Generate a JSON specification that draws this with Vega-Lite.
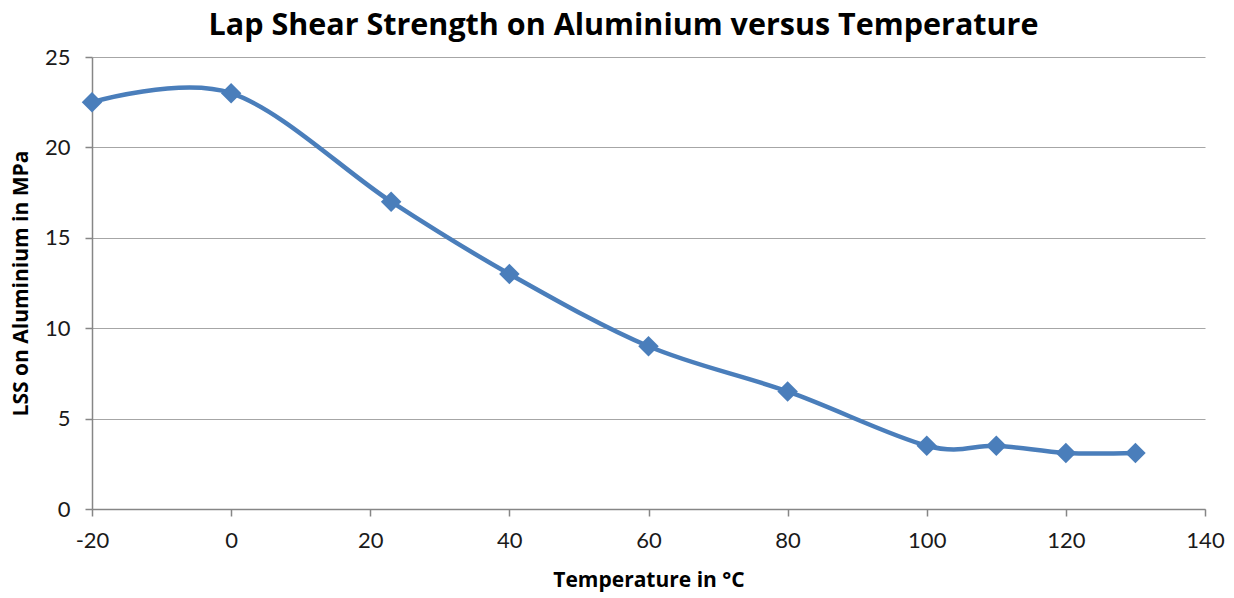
{
  "$schema": "https://vega.github.io/schema/vega-lite/v6.json",
  "autosize": {"type": "none"},
  "padding": {"left": 92, "top": 57, "right": 29, "bottom": 89},
  "width": 1113,
  "height": 452,
  "background": "white",
  "title": {
    "text": "Lap Shear Strength on Aluminium versus Temperature",
    "font": "Open Sans",
    "fontSize": 30.5,
    "fontWeight": "bold",
    "color": "#000000",
    "anchor": "middle",
    "dx": -25,
    "offset": 5
  },
  "data": {
    "values": [
      {"temp": -20, "lss": 22.5},
      {"temp": 0, "lss": 23},
      {"temp": 23, "lss": 17},
      {"temp": 40, "lss": 13},
      {"temp": 60, "lss": 9},
      {"temp": 80, "lss": 6.5},
      {"temp": 100, "lss": 3.5},
      {"temp": 110, "lss": 3.5},
      {"temp": 120, "lss": 3.1},
      {"temp": 130, "lss": 3.1}
    ]
  },
  "encoding": {
    "x": {
      "field": "temp",
      "type": "quantitative",
      "scale": {"domain": [-20, 140], "nice": false, "zero": false},
      "axis": {
        "title": "Temperature in °C",
        "values": [-20, 0, 20, 40, 60, 80, 100, 120, 140],
        "labelExpr": "'' + datum.value",
        "grid": false,
        "domainColor": "#868686",
        "domainWidth": 1.5,
        "tickColor": "#868686",
        "tickWidth": 1.5,
        "tickSize": 7,
        "labelPadding": 14,
        "labelFont": "Lato",
        "labelFontSize": 22,
        "labelColor": "#1a1a1a",
        "labelFlush": false,
        "titleFont": "Open Sans",
        "titleFontSize": 21,
        "titleFontWeight": "bold",
        "titleColor": "#000000",
        "titlePadding": 18
      }
    },
    "y": {
      "field": "lss",
      "type": "quantitative",
      "scale": {"domain": [0, 25], "nice": false},
      "axis": {
        "title": "LSS on Aluminium in MPa",
        "values": [0, 5, 10, 15, 20, 25],
        "grid": true,
        "gridColor": "#a6a6a6",
        "gridWidth": 1.2,
        "domainColor": "#868686",
        "domainWidth": 1.5,
        "tickColor": "#868686",
        "tickWidth": 1.5,
        "tickSize": 7,
        "labelPadding": 15,
        "labelFont": "Lato",
        "labelFontSize": 22,
        "labelColor": "#1a1a1a",
        "titleFont": "Open Sans",
        "titleFontSize": 21,
        "titleFontWeight": "bold",
        "titleColor": "#000000",
        "titlePadding": 13
      }
    }
  },
  "layer": [
    {
      "mark": {"type": "line", "interpolate": "cardinal", "tension": 0, "color": "#4A7EBB", "strokeWidth": 4.5}
    },
    {
      "mark": {"type": "point", "shape": "diamond", "filled": true, "size": 420, "color": "#4A7EBB", "opacity": 1}
    }
  ],
  "config": {"view": {"stroke": null}}
}
